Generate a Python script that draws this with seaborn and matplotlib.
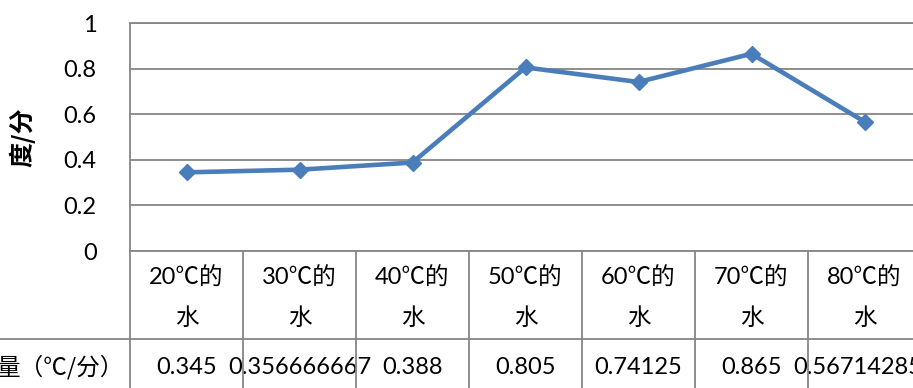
import numpy as np
import matplotlib
matplotlib.use("Agg")
import matplotlib.pyplot as plt
import seaborn as sns

# Data: water temperature groups and measured rates
categories = ["20℃的水", "30℃的水", "40℃的水", "50℃的水", "60℃的水", "70℃的水", "80℃的水"]
values = [0.345, 0.356666667, 0.388, 0.805, 0.74125, 0.865, 0.567142857]
y_ticks = [0, 0.2, 0.4, 0.6, 0.8, 1.0]
y_tick_labels = ["0", "0.2", "0.4", "0.6", "0.8", "1"]
y_label = "度/分"
row_label = "量（℃/分）"

sns.set_theme(style="white")
plt.rcParams["font.family"] = ["Lato", "Noto Sans CJK SC", "DejaVu Sans"]

line_color = "#4A7EBB"
grid_color = "#868686"
text_color = "#000000"
fs = 17

W, H = 913, 388
fig = plt.figure(figsize=(W / 100, H / 100), dpi=100)
fig.patch.set_facecolor("white")
# plot area; the data table hangs below it and runs past the right edge
ax = fig.add_axes([130 / W, (H - 251) / H, 791 / W, 228 / H])
ax.set_facecolor("white")

positions = np.arange(len(categories))
sns.lineplot(x=positions, y=values, ax=ax, color=line_color, linewidth=3.3,
             marker="D", markersize=7.8, markeredgecolor=line_color,
             markeredgewidth=1.0, zorder=5)

ax.set_xlim(-0.5, len(categories) - 0.5)
ax.set_ylim(0, 1)
ax.set_yticks(y_ticks)
ax.set_yticklabels(y_tick_labels, fontsize=fs, color=text_color)
ax.set_xticks([])
ax.tick_params(axis="y", length=0, pad=24)
ax.yaxis.grid(True, color=grid_color, linewidth=1.3)
ax.set_axisbelow(True)
for side in ["left", "bottom", "top"]:
    ax.spines[side].set_visible(True)
    ax.spines[side].set_color(grid_color)
    ax.spines[side].set_linewidth(1.3)
ax.spines["right"].set_visible(False)
ax.set_xlabel("")
ax.set_ylabel(y_label, fontsize=18, fontweight="bold", color=text_color,
              family=["Noto Sans CJK SC", "DejaVu Sans"], labelpad=20)

# Data table under the chart
xform = ax.get_xaxis_transform()
axes_h = 228.0
y_row1_top = 0.0
y_row_split = -(339 - 251) / axes_h
y_bottom = -(H - 251) / axes_h - 0.05
y_cat_line1 = -(278 - 251) / axes_h
y_cat_line2 = -(318 - 251) / axes_h
y_val = -(367 - 251) / axes_h

for k in range(len(categories) + 1):
    xb = k - 0.5
    ax.plot([xb, xb], [y_row1_top, y_bottom], transform=xform, color=grid_color,
            linewidth=1.3, clip_on=False, zorder=6)
left_frac = -130 / 791
ax.plot([left_frac, 1.0], [y_row_split, y_row_split], transform=ax.transAxes,
        color=grid_color, linewidth=1.3, clip_on=False, zorder=6)

for i, (cat, v) in enumerate(zip(categories, values)):
    ax.text(i, y_cat_line1, cat[:-1], transform=xform, ha="center", va="center",
            fontsize=fs, color=text_color, zorder=4)
    ax.text(i, y_cat_line2, cat[-1], transform=xform, ha="center", va="center",
            fontsize=fs, color=text_color, zorder=4)
    ax.text(i, y_val, f"{v:.9g}", transform=xform, ha="center", va="center",
            fontsize=fs, color=text_color, zorder=4)

ax.text(-6 / 791, y_val, row_label, transform=ax.transAxes, ha="right",
        va="center", fontsize=fs, color=text_color,
        family=["Noto Sans CJK SC", "DejaVu Sans"])

fig.savefig("out.png", dpi=100)
